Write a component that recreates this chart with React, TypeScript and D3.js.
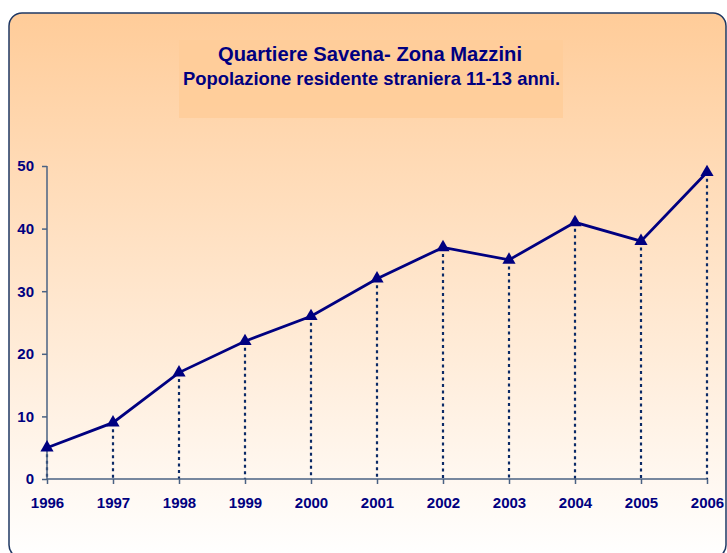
import React, { useEffect, useRef } from 'react';
import * as d3 from 'd3';

const years = ['1996', '1997', '1998', '1999', '2000', '2001', '2002', '2003', '2004', '2005', '2006'];
const residents = [5, 9, 17, 22, 26, 32, 37, 35, 41, 38, 49];
const yTicks = [0, 10, 20, 30, 40, 50];
const title = 'Quartiere Savena- Zona Mazzini';
const subtitle = 'Popolazione residente straniera 11-13 anni.';

const W = 727;
const H = 553;
const navy = '#000080';
const axisColor = '#4A6283';
const font = 'Liberation Sans, Arial, sans-serif';

const App = () => {
  const ref = useRef<SVGSVGElement>(null);

  useEffect(() => {
    const svg = d3.select(ref.current);
    svg.selectAll('*').remove();

    const defs = svg.append('defs');
    const grad = defs.append('linearGradient')
      .attr('id', 'bg')
      .attr('x1', 0).attr('y1', 0).attr('x2', 0).attr('y2', 1);
    grad.append('stop').attr('offset', '0%').attr('stop-color', '#FFCC99');
    grad.append('stop').attr('offset', '100%').attr('stop-color', '#FFFFFF');

    // frame
    svg.append('rect')
      .attr('x', 9).attr('y', 13)
      .attr('width', 717).attr('height', 545)
      .attr('rx', 13).attr('ry', 13)
      .attr('fill', 'url(#bg)')
      .attr('stroke', '#1F3864')
      .attr('stroke-width', 1.5);

    // title box
    svg.append('rect')
      .attr('x', 179).attr('y', 40)
      .attr('width', 384).attr('height', 78)
      .attr('fill', '#FFCC99')
      .attr('opacity', 0.85);

    svg.append('text')
      .attr('x', 370).attr('y', 61)
      .attr('text-anchor', 'middle')
      .attr('font-family', font)
      .attr('font-weight', 'bold')
      .attr('font-size', 20.2)
      .attr('fill', navy)
      .text(title);
    svg.append('text')
      .attr('x', 371.5).attr('y', 85)
      .attr('text-anchor', 'middle')
      .attr('font-family', font)
      .attr('font-weight', 'bold')
      .attr('font-size', 18.4)
      .attr('fill', navy)
      .text(subtitle);

    const x = d3.scalePoint<string>().domain(years).range([47, 707]);
    const y = d3.scaleLinear().domain([0, 50]).range([479, 166]);

    const data = years.map((yr, i) => ({ yr, v: residents[i] }));

    // drop lines
    svg.append('g')
      .selectAll('line')
      .data(data)
      .join('line')
      .attr('x1', (d) => x(d.yr)!)
      .attr('x2', (d) => x(d.yr)!)
      .attr('y1', (d) => y(d.v))
      .attr('y2', y(0))
      .attr('stroke', '#0B2A66')
      .attr('stroke-width', 2.2)
      .attr('stroke-dasharray', '3,3.5');

    // y axis
    const gy = svg.append('g')
      .attr('transform', `translate(${x(years[0])},0)`)
      .call(d3.axisLeft(y).tickValues(yTicks).tickSize(5).tickPadding(8));
    // x axis
    const gx = svg.append('g')
      .attr('transform', `translate(0,${y(0)})`)
      .call(d3.axisBottom(x).tickSize(5).tickPadding(13));

    [gx, gy].forEach((g) => {
      g.select('.domain').attr('stroke', axisColor).attr('stroke-width', 1.5);
      g.selectAll('.tick line').attr('stroke', axisColor).attr('stroke-width', 1.5);
      g.selectAll('.tick text')
        .attr('fill', navy)
        .attr('font-family', font)
        .attr('font-weight', 'bold')
        .attr('font-size', 15);
    });
    gx.select('.domain').attr('d', `M${x(years[0])},0H${x(years[years.length - 1])}`);
    gy.select('.domain').attr('d', `M0,${y(0)}V${y(50)}`);

    // line
    const line = d3.line<{ yr: string; v: number }>()
      .x((d) => x(d.yr)!)
      .y((d) => y(d.v));
    svg.append('path')
      .datum(data)
      .attr('d', line)
      .attr('fill', 'none')
      .attr('stroke', navy)
      .attr('stroke-width', 2.8);

    // markers
    const tri = d3.symbol().type(d3.symbolTriangle).size(75);
    svg.append('g')
      .selectAll('path')
      .data(data)
      .join('path')
      .attr('d', tri)
      .attr('transform', (d) => `translate(${x(d.yr)},${y(d.v)})`)
      .attr('fill', navy);
  }, []);

  return (
    <div>
      <svg
        ref={ref}
        width={W}
        height={H}
        style={{ position: 'absolute', left: 0, top: 0, background: '#FFFFFF' }}
      ></svg>
    </div>
  );
};

export default App;
